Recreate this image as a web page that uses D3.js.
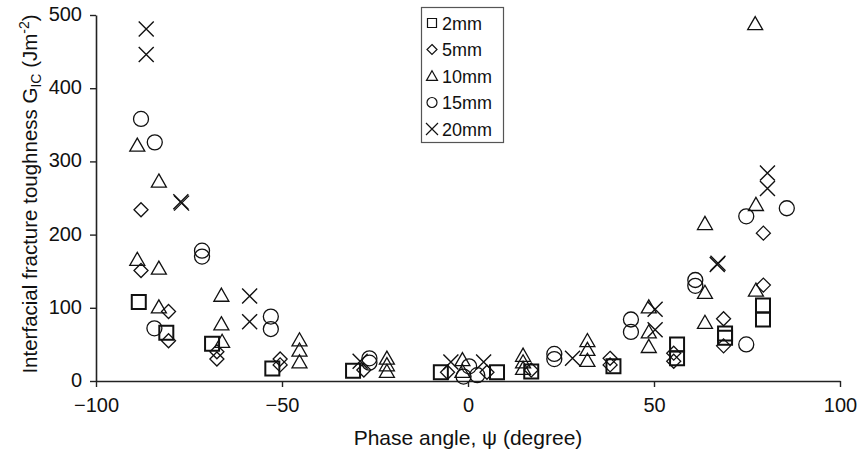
<!DOCTYPE html>
<html>
<head>
<meta charset="utf-8">
<script src="https://cdn.jsdelivr.net/npm/d3@7"></script>
<style>
  html, body { margin: 0; padding: 0; background: #fff; }
  svg { display: block; font-family: "Liberation Sans", Arial, sans-serif; }
</style>
</head>
<body>
<svg id="chart" width="862" height="457"></svg>
<script>
// Interfacial fracture toughness vs phase angle, one series per layer thickness
const seriesNames = ["2mm", "5mm", "10mm", "15mm", "20mm"];
const seriesShapes = ["square", "diamond", "triangle", "circle", "cross"];

const data2mm = [
  [-88.5, 108], [-81.1, 66], [-68.8, 51], [-52.6, 17], [-30.9, 14],
  [-7.3, 12], [7.8, 12], [17, 13], [39.1, 20], [56.2, 50], [56.2, 31],
  [69.1, 65], [69.1, 59], [79.3, 103], [79.3, 84]
];
const data5mm = [
  [-87.9, 234], [-87.9, 151], [-80.5, 95], [-80.5, 55], [-67.5, 40], [-67.5, 30],
  [-50.5, 30], [-50.5, 22], [-28, 15], [-5.5, 12], [5.1, 12], [17, 15],
  [38.2, 31], [38.2, 22], [55.3, 38], [55.3, 27], [68.7, 85], [68.7, 48],
  [79.4, 202], [79.4, 131]
];
const data10mm = [
  [-88.9, 322], [-83.1, 273], [-88.9, 166], [-83.1, 154], [-83.1, 101],
  [-66.3, 117], [-66.3, 78], [-66.1, 54], [-45.3, 56], [-45.3, 42], [-45.3, 26],
  [-21.8, 31], [-21.8, 22], [-21.8, 13], [-1.5, 29], [-1.5, 13],
  [14.8, 35], [14.8, 26], [14.8, 17], [32.1, 55], [32.1, 43], [32.1, 28],
  [48.6, 101], [48.6, 67], [48.6, 47], [63.7, 215], [63.7, 121], [63.7, 80],
  [77.4, 241], [77.4, 124], [77.2, 488]
];
const data15mm = [
  [-87.9, 358], [-84.2, 326], [-71.5, 178], [-71.5, 170], [-84.3, 72],
  [-53, 88], [-53, 71], [-26.5, 31], [-26.5, 25], [0.3, 20], [2.5, 8], [-1.2, 6],
  [23.2, 37], [23.2, 30], [43.8, 84], [43.8, 67], [61.1, 138], [61.1, 130],
  [74.8, 225], [74.8, 50], [85.7, 236]
];
const data20mm = [
  [-86.5, 481], [-86.5, 446], [-77.2, 245], [-77.0, 243], [-58.7, 116], [-58.7, 81],
  [-29, 27], [-4.6, 26], [4.2, 26], [28.1, 31], [50.3, 98], [50.3, 70],
  [67.2, 161], [67.0, 159], [80.5, 284], [80.5, 263]
];
const seriesData = [data2mm, data5mm, data10mm, data15mm, data20mm];

const xTicks = [-100, -50, 0, 50, 100];
const yTicks = [0, 100, 200, 300, 400, 500];

const svg = d3.select("#chart");
const margin = { left: 96, top: 15, right: 22, bottom: 76 };
const W = 862, H = 457;

const x = d3.scaleLinear().domain([-100, 100]).range([margin.left, W - margin.right]);
const y = d3.scaleLinear().domain([0, 500]).range([H - margin.bottom, margin.top]);

// marker outline paths, r is the half-size in px
function shapePath(shape, r) {
  const p = d3.path();
  if (shape === "square") {
    p.rect(-r, -r, 2 * r, 2 * r);
  } else if (shape === "diamond") {
    p.moveTo(0, -r); p.lineTo(r, 0); p.lineTo(0, r); p.lineTo(-r, 0); p.closePath();
  } else if (shape === "triangle") {
    const h = r * 1.75;
    p.moveTo(0, -h * 0.55); p.lineTo(r, h * 0.45); p.lineTo(-r, h * 0.45); p.closePath();
  } else if (shape === "circle") {
    p.arc(0, 0, r, 0, 2 * Math.PI); p.closePath();
  } else {
    p.moveTo(-r, -r); p.lineTo(r, r); p.moveTo(r, -r); p.lineTo(-r, r);
  }
  return p.toString();
}
const markerSize = { square: 7, diamond: 7, triangle: 7.5, circle: 7.5, cross: 7.5 };
const markerStroke = { square: 2, diamond: 1.3, triangle: 1.3, circle: 1.3, cross: 1.4 };
const legendSize = { square: 4.5, diamond: 5, triangle: 5.5, circle: 5, cross: 6 };

// axes
const axisColor = "#222";
const fontStack = "'Liberation Sans', Arial, sans-serif";
const xAxis = svg.append("g")
  .attr("transform", `translate(0,${y(0)})`)
  .call(d3.axisBottom(x).tickValues(xTicks).tickSize(6).tickPadding(11).tickSizeOuter(0));
const yAxis = svg.append("g")
  .attr("transform", `translate(${x(-100)},0)`)
  .call(d3.axisLeft(y).tickValues(yTicks).tickSize(6).tickPadding(8).tickSizeOuter(0));
[xAxis, yAxis].forEach(g => {
  g.select(".domain").attr("stroke", axisColor).attr("stroke-width", 1.6);
  g.selectAll(".tick line").attr("stroke", axisColor).attr("stroke-width", 1.4);
  g.selectAll(".tick text").attr("fill", "#111").style("font-size", "20px")
    .style("font-family", fontStack);
});
yAxis.selectAll(".tick text").attr("dy", "0.27em");

// markers
seriesData.forEach((arr, i) => {
  const shape = seriesShapes[i];
  svg.append("g").selectAll("path").data(arr).join("path")
    .attr("transform", d => `translate(${x(d[0])},${y(d[1])})`)
    .attr("d", shapePath(shape, markerSize[shape]))
    .attr("fill", "none")
    .attr("stroke", "#111")
    .attr("stroke-width", markerStroke[shape]);
});

// axis titles
svg.append("text")
  .attr("x", x(0)).attr("y", 445)
  .attr("text-anchor", "middle")
  .style("font-size", "21px").attr("fill", "#111")
  .text("Phase angle, \u03C8 (degree)");

const yt = svg.append("text")
  .attr("transform", `translate(37,${(y(0) + y(500)) / 2 - 4}) rotate(-90)`)
  .attr("text-anchor", "middle")
  .style("font-size", "20.5px").attr("fill", "#111");
yt.append("tspan").text("Interfacial fracture toughness G");
yt.append("tspan").attr("dy", 4).style("font-size", "14px").text("IC");
yt.append("tspan").attr("dy", -4).text(" (Jm");
yt.append("tspan").attr("dy", -8).style("font-size", "14px").text("-2");
yt.append("tspan").attr("dy", 8).text(")");

// legend
const lg = svg.append("g");
lg.append("rect")
  .attr("x", 421.5).attr("y", 7.5).attr("width", 82).attr("height", 135)
  .attr("fill", "#fff").attr("stroke", "#555").attr("stroke-width", 1.2);
seriesNames.forEach((name, i) => {
  const cy = 23 + i * 26.5;
  const shape = seriesShapes[i];
  lg.append("path")
    .attr("transform", `translate(432,${cy})`)
    .attr("d", shapePath(shape, legendSize[shape]))
    .attr("fill", "none").attr("stroke", "#111").attr("stroke-width", 1.2);
  lg.append("text")
    .attr("x", 442).attr("y", cy + 6.5)
    .style("font-size", "18px").attr("fill", "#111")
    .text(name);
});
</script>
</body>
</html>
